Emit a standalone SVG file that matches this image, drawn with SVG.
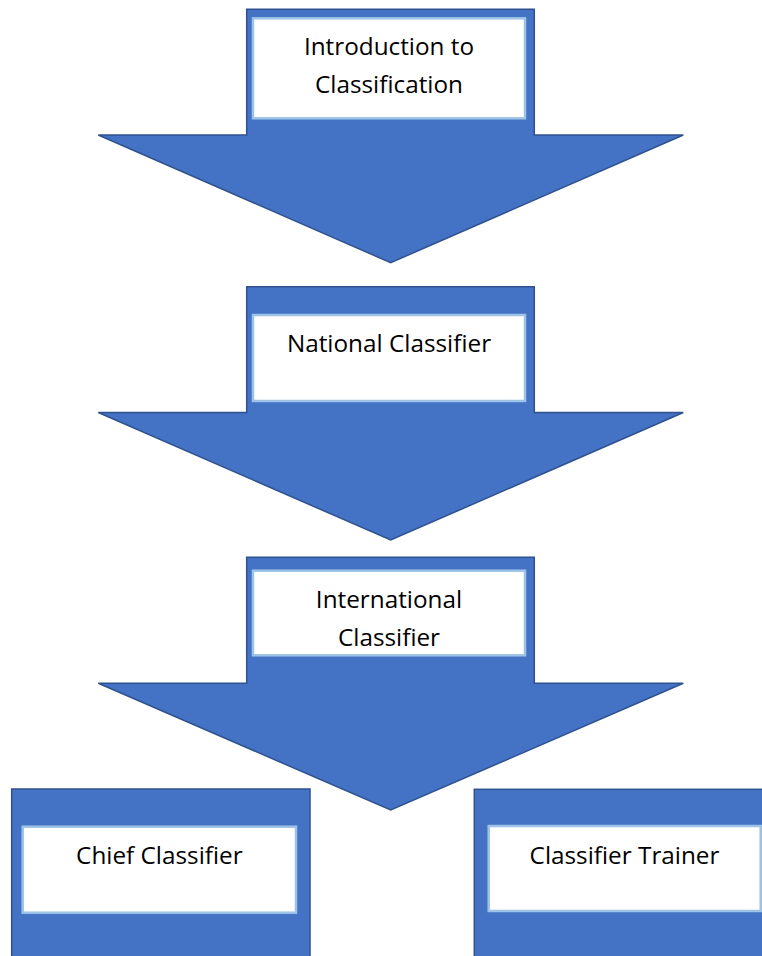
<svg xmlns="http://www.w3.org/2000/svg" width="762" height="956" viewBox="0 0 762 956">
<style>
.arrow{fill:#4472C4;stroke:#2F528F;stroke-width:1.5;stroke-linejoin:miter}
.box{fill:#FFFFFF;stroke:#9DC3E6;stroke-width:2.5}
.block{fill:#4472C4;stroke:#2F528F;stroke-width:1.5}
.label{font-family:"Open Sans","Liberation Sans",sans-serif;font-size:24.3px;fill:#000000;text-anchor:middle}
</style>
<rect width="762" height="956" fill="#FFFFFF"/>
<g id="connectors"></g>
<g id="node-introduction">
<polygon class="arrow" points="246.7,9.3 534.3,9.3 534.3,135 683.3,135 390.7,262.7 98.3,135 246.7,135"/>
<rect class="box" x="253" y="18.3" width="272" height="100"/>
<text class="label" x="389" y="55">Introduction to</text>
<text class="label" x="389" y="93.3">Classification</text>
</g>
<g id="node-national">
<polygon class="arrow" points="246.7,286.7 534.3,286.7 534.3,412.5 683.3,412.5 390.7,540 98.3,412.5 246.7,412.5"/>
<rect class="box" x="253" y="315" width="272" height="86"/>
<text class="label" x="389" y="351.7">National Classifier</text>
</g>
<g id="node-international">
<polygon class="arrow" points="246.7,557.3 534.3,557.3 534.3,683.3 683.3,683.3 390.7,810 98.3,683.3 246.7,683.3"/>
<rect class="box" x="253" y="570.7" width="272" height="84.6"/>
<text class="label" x="389" y="608.3">International</text>
<text class="label" x="389" y="645.7">Classifier</text>
</g>
<g id="node-chief">
<rect class="block" x="11.7" y="789" width="298.3" height="180"/>
<rect class="box" x="22.7" y="826.7" width="273.3" height="86"/>
<text class="label" x="159.4" y="864.3">Chief Classifier</text>
</g>
<g id="node-trainer">
<rect class="block" x="474.3" y="789.3" width="298.3" height="180"/>
<rect class="box" x="488.7" y="826" width="272" height="85"/>
<text class="label" x="624.5" y="864">Classifier Trainer</text>
</g>
</svg>
